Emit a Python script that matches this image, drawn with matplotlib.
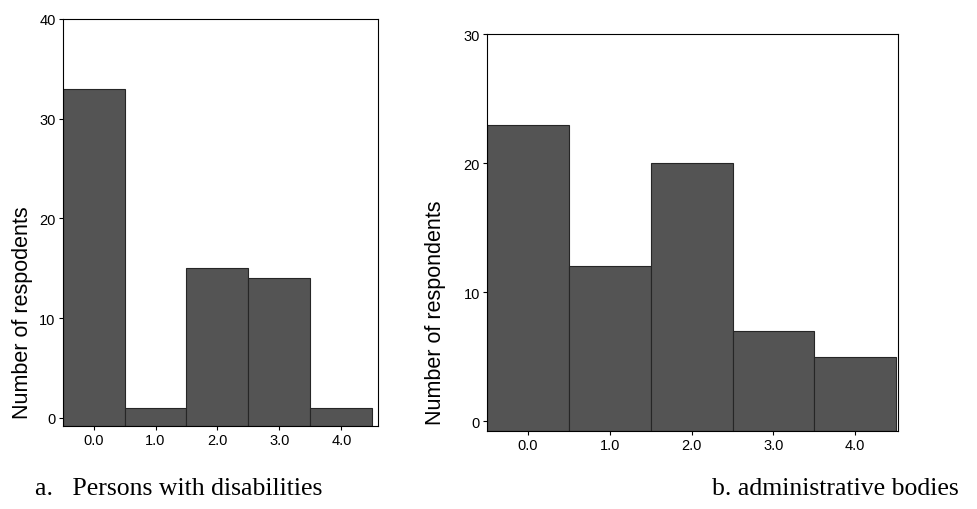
import matplotlib.pyplot as plt
import numpy as np

categories = [0.0, 1.0, 2.0, 3.0, 4.0]
tick_labels = ['0.0', '1.0', '2.0', '3.0', '4.0']
disabled = [33, 1, 15, 14, 1]
admin = [23, 12, 20, 7, 5]

plt.rcParams['font.family'] = ['Liberation Sans', 'DejaVu Sans']

fig = plt.figure(figsize=(9.78, 5.1), dpi=100)

def drawHist(rect, values, ymax, ylabel, xmax, labelpos, ymin=-0.8):
    ax = fig.add_axes(rect)
    # SPSS style: bars start at the bottom of the frame, a bit below 0
    ax.bar(categories, np.array(values) - ymin, bottom=ymin, width=1.0,
           color='#545454', edgecolor='#262626', linewidth=0.8)
    ax.set_xlim(-0.5, xmax)
    ax.set_ylim(ymin, ymax)
    ax.set_yticks(np.arange(0, ymax + 1, 10))
    ax.set_xticks(categories)
    ax.set_xticklabels(tick_labels)
    ax.tick_params(axis='both', labelsize=10.5, length=3, direction='out', pad=2)
    ax.set_ylabel(ylabel, fontsize=15.5)
    ax.yaxis.set_label_coords(labelpos[0], labelpos[1])
    for s in ax.spines.values():
        s.set_linewidth(0.8)
    return ax

drawHist([0.064, 0.163, 0.323, 0.798], disabled, 40, 'Number of respodents', 4.6, (-0.093, 0.28))
drawHist([0.498, 0.153, 0.420, 0.778], admin, 30, 'Number of respondents', 4.52, (-0.101, 0.30), ymin=-0.75)

fig.text(0.036, 0.03, 'a.   Persons with disabilities', family='Liberation Serif', fontsize=18.5)
fig.text(0.728, 0.03, 'b. administrative bodies', family='Liberation Serif', fontsize=18.5)

plt.savefig('out.png', dpi=100)
